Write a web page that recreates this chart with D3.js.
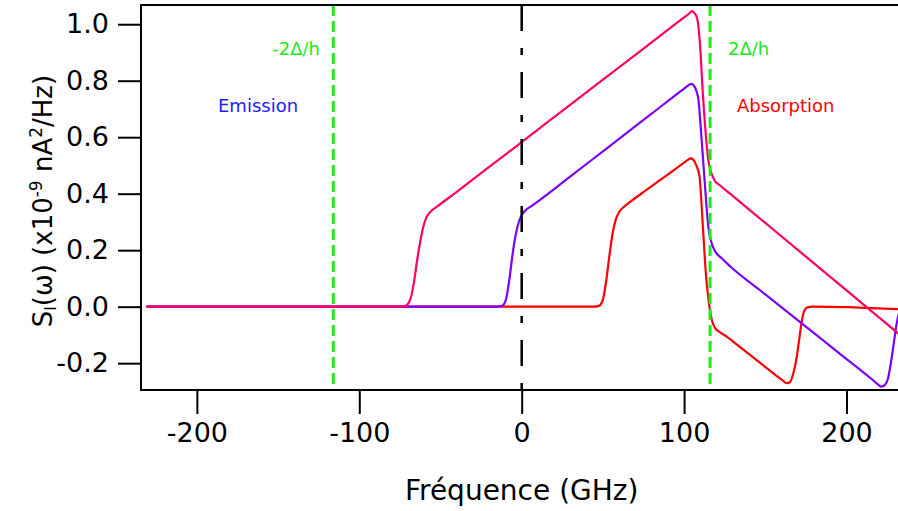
<!DOCTYPE html>
<html>
<head>
<meta charset="utf-8">
<script src="https://cdn.jsdelivr.net/npm/d3@7"></script>
<style>
body { margin: 0; background: #ffffff; }
svg text { font-family: "DejaVu Sans", sans-serif; }
</style>
</head>
<body>
<script>
width = 898
height = 511
margin = {left: 141, top: 5, right: 0, bottom: 121}

// tick values
xTicks = [-200, -100, 0, 100, 200]
yTicks = [-0.2, 0.0, 0.2, 0.4, 0.6, 0.8, 1.0]

// gap lines (GHz) at +/- 2Delta/h
gapLines = [-116, 116]

// curves: [GHz, S_I]
pinkPts = [
    [-231, 0], [-76, 0], [-72, 0.002], [-69, 0.02], [-66.5, 0.08], [-64.5, 0.16],
    [-62.5, 0.23], [-60.5, 0.285], [-58.5, 0.318], [-56, 0.337], [-52, 0.355],
    [-41, 0.402], [-20, 0.4946], [0, 0.5829], [25, 0.6932], [50, 0.8035], [75, 0.9137],
    [100, 1.024], [103, 1.037], [104.7, 1.046], [106.3, 1.04],
    [108, 1.022], [109.5, 0.95], [111.8, 0.731], [113.5, 0.6], [114.9, 0.519],
    [117, 0.47], [119, 0.445], [122, 0.43], [128.3, 0.4], [150, 0.2964], [175, 0.177],
    [195, 0.0814], [213.1, -0.005], [233, -0.1003]
]
purplePts = [
    [-231, 0], [-15, 0], [-12, 0.003], [-9.5, 0.03], [-7.5, 0.1], [-5.5, 0.19],
    [-3.5, 0.26], [-1.5, 0.305], [0.5, 0.328], [2.5, 0.342], [6, 0.356],
    [11.3, 0.378], [30, 0.4611], [55, 0.5721], [80, 0.6832], [100, 0.772], [103, 0.785],
    [104.2, 0.789], [106, 0.783],
    [107.5, 0.765], [108.7, 0.738], [110.8, 0.59], [112.9, 0.425], [114.9, 0.283],
    [117, 0.224], [119, 0.197], [123, 0.172], [128.3, 0.143], [150, 0.0435],
    [172.4, -0.059], [195, -0.1626], [216, -0.2588], [219.5, -0.276], [221.5, -0.283],
    [223.5, -0.278], [225.5, -0.255],
    [227.3, -0.2], [228.8, -0.142], [230.9, -0.059], [233, -0.01]
]
redPts = [
    [-231, 0], [44, 0], [47.5, 0.003], [50, 0.025], [52, 0.09], [54, 0.18],
    [56, 0.26], [58, 0.31], [60, 0.335], [63, 0.354], [67, 0.372], [76, 0.4096],
    [88, 0.4598], [100, 0.51], [102.5, 0.5205], [104.2, 0.525], [106, 0.518], [107.5, 0.5],
    [109.4, 0.465], [111.8, 0.26], [113.5, 0.11], [114.9, 0.03], [117, -0.045],
    [119, -0.075], [122, -0.09], [126.2, -0.106], [134.5, -0.1433], [147, -0.1996],
    [160, -0.258], [163.3, -0.271], [165.3, -0.266], [167.3, -0.235], [169.3, -0.18],
    [171, -0.11], [172.5, -0.05], [174, -0.015], [176, -0.002], [179, 0.0], [233, -0.009]
]

svg = d3.select("body")
    .append("svg")
    .attr("width", width)
    .attr("height", height)

x = d3.scaleLinear().domain([-234.4, 231.7]).range([margin.left, width])
y = d3.scaleLinear().domain([-0.295, 1.068]).range([height - margin.bottom, margin.top])

svg.append("clipPath")
    .attr("id", "plotclip")
    .append("rect")
    .attr("x", margin.left)
    .attr("y", margin.top)
    .attr("width", width - margin.left)
    .attr("height", height - margin.bottom - margin.top)

line = d3.line()
    .x(d => x(d[0]))
    .y(d => y(d[1]))
    .curve(d3.curveMonotoneX)

plot = svg.append("g").attr("clip-path", "url(#plotclip)")

// red under purple under pink
plot.append("path").datum(redPts)
    .attr("d", line).attr("fill", "none")
    .attr("stroke", "#ff0000").attr("stroke-width", 2.2)
plot.append("path").datum(purplePts)
    .attr("d", line).attr("fill", "none")
    .attr("stroke", "#7b00ff").attr("stroke-width", 2.2)
plot.append("path").datum(pinkPts)
    .attr("d", line).attr("fill", "none")
    .attr("stroke", "#ff0066").attr("stroke-width", 2.2)

// green dashed gap lines
plot.selectAll("line.gap")
    .data(gapLines)
    .enter()
    .append("line")
    .attr("class", "gap")
    .attr("x1", d => x(d)).attr("x2", d => x(d))
    .attr("y1", margin.top).attr("y2", height - margin.bottom)
    .attr("stroke", "#1ee81e")
    .attr("stroke-width", 3)
    .attr("stroke-dasharray", "11,5")

// zero frequency dash-dot line
plot.append("line")
    .attr("x1", x(0)).attr("x2", x(0))
    .attr("y1", margin.top).attr("y2", height - margin.bottom)
    .attr("stroke", "#000000")
    .attr("stroke-width", 2.5)
    .attr("stroke-dasharray", "26,17,7,17")

// plain hyphen minus, like the original
fmtX = d => d3.format("d")(d).replace("\u2212", "-")
fmtY = d => d3.format(".1f")(d).replace("\u2212", "-")

// axes
xAxis = svg.append("g")
    .attr("transform", "translate(0," + (height - margin.bottom) + ")")
    .call(d3.axisBottom(x).tickValues(xTicks).tickSize(24).tickPadding(9).tickFormat(fmtX))
yAxis = svg.append("g")
    .attr("transform", "translate(" + margin.left + ",0)")
    .call(d3.axisLeft(y).tickValues(yTicks).tickSize(23).tickPadding(9).tickFormat(fmtY))

svg.selectAll(".domain").remove()
svg.selectAll(".tick line").attr("stroke", "#000").attr("stroke-width", 2)
svg.selectAll(".tick text")
    .attr("fill", "#000")
    .style("font-size", "27px")
    .style("font-family", "DejaVu Sans, sans-serif")

// frame: left, top, bottom
svg.append("path")
    .attr("d", "M" + width + "," + margin.top + "H" + margin.left + "V" + (height - margin.bottom) + "H" + width)
    .attr("fill", "none")
    .attr("stroke", "#000")
    .attr("stroke-width", 2)

// axis titles
svg.append("text")
    .attr("x", x(0))
    .attr("y", 500)
    .attr("text-anchor", "middle")
    .style("font-size", "28px")
    .text("Fréquence (GHz)")

ylab = svg.append("text")
    .attr("transform", "translate(52,201) rotate(-90)")
    .attr("text-anchor", "middle")
    .style("font-size", "26px")
ylab.append("tspan").text("S")
ylab.append("tspan").attr("baseline-shift", "-25%").style("font-size", "15px").text("I")
ylab.append("tspan").text("(ω) (x10")
ylab.append("tspan").attr("baseline-shift", "super").style("font-size", "17px").text("-9")
ylab.append("tspan").text(" nA")
ylab.append("tspan").attr("baseline-shift", "super").style("font-size", "17px").text("2")
ylab.append("tspan").text("/Hz)")

// annotations
svg.append("text").attr("x", 320).attr("y", 55).attr("text-anchor", "end")
    .attr("fill", "#1ee81e").style("font-size", "18px").text("-2Δ/h")
svg.append("text").attr("x", 728).attr("y", 55)
    .attr("fill", "#1ee81e").style("font-size", "18px").text("2Δ/h")
svg.append("text").attr("x", 218).attr("y", 112)
    .attr("fill", "#2222ff").style("font-size", "18px").text("Emission")
svg.append("text").attr("x", 737).attr("y", 112)
    .attr("fill", "#ff0000").style("font-size", "18px").text("Absorption")
</script>
</body>
</html>
